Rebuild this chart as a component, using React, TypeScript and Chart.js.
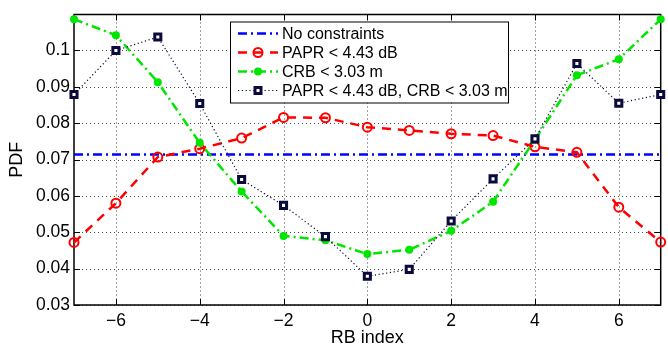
import React, { useEffect, useRef } from "react";
import { Chart, registerables } from "chart.js";

Chart.register(...registerables);

const rbIndex = [-7, -6, -5, -4, -3, -2, -1, 0, 1, 2, 3, 4, 5, 6, 7];
const noConstraints = [0.0714, 0.0714, 0.0714, 0.0714, 0.0714, 0.0714, 0.0714, 0.0714, 0.0714, 0.0714, 0.0714, 0.0714, 0.0714, 0.0714, 0.0714];
const paprOnly = [0.0472, 0.058, 0.0707, 0.073, 0.0759, 0.0816, 0.0815, 0.0789, 0.078, 0.0771, 0.0766, 0.0735, 0.072, 0.0569, 0.0473];
const crbOnly = [0.1086, 0.1042, 0.0913, 0.0746, 0.0612, 0.049, 0.0478, 0.044, 0.0452, 0.0504, 0.0584, 0.0755, 0.0932, 0.0976, 0.1086];
const paprCrb = [0.0879, 0.1, 0.1037, 0.0854, 0.0645, 0.0574, 0.0488, 0.0379, 0.0398, 0.0531, 0.0647, 0.0757, 0.0964, 0.0855, 0.0879];
const xTicks = [-6, -4, -2, 0, 2, 4, 6];
const yTicks = [0.03, 0.04, 0.05, 0.06, 0.07, 0.08, 0.09, 0.1];
const seriesLabels = [
  "No constraints",
  "PAPR < 4.43 dB",
  "CRB < 3.03 m",
  "PAPR < 4.43 dB, CRB < 3.03 m",
];
const xTitle = "RB index";
const yTitle = "PDF";

const FONT = "'Liberation Sans', Arial, Helvetica, sans-serif";
const BLUE = "#0000ff";
const RED = "#ff0000";
const GREEN = "#00e600";
const NAVY = "#0a0a3c";

const styles = [
  { color: BLUE, dash: [9, 4, 2, 4], width: 2.5, marker: "none" },
  { color: RED, dash: [9, 7], width: 2.5, marker: "openCircle" },
  { color: GREEN, dash: [9, 4, 2, 4], width: 2.5, marker: "dot" },
  { color: NAVY, dash: [1.2, 2.6], width: 1.2, marker: "square" },
];

function drawMarker(ctx: CanvasRenderingContext2D, kind: string, x: number, y: number) {
  ctx.save();
  ctx.setLineDash([]);
  if (kind === "openCircle") {
    ctx.strokeStyle = RED;
    ctx.lineWidth = 2;
    ctx.beginPath();
    ctx.arc(x, y, 4.5, 0, Math.PI * 2);
    ctx.stroke();
  } else if (kind === "dot") {
    ctx.fillStyle = GREEN;
    ctx.beginPath();
    ctx.arc(x, y, 4, 0, Math.PI * 2);
    ctx.fill();
  } else if (kind === "square") {
    ctx.fillStyle = "#ffffff";
    ctx.strokeStyle = NAVY;
    ctx.lineWidth = 3;
    ctx.fillRect(x - 3, y - 3, 6, 6);
    ctx.strokeRect(x - 3, y - 3, 6, 6);
  }
  ctx.restore();
}

const framePlugin = {
  id: "matlabFrame",
  beforeDatasetsDraw(chart: any) {
    const { ctx, chartArea: a, scales } = chart;
    const xs = scales.x;
    const ys = scales.y;
    ctx.save();
    ctx.strokeStyle = "#444444";
    ctx.lineWidth = 1;
    ctx.setLineDash([1, 3]);
    xTicks.forEach((v) => {
      const px = Math.round(xs.getPixelForValue(v)) + 0.5;
      ctx.beginPath();
      ctx.moveTo(px, a.top);
      ctx.lineTo(px, a.bottom);
      ctx.stroke();
    });
    yTicks.forEach((v) => {
      const py = Math.round(ys.getPixelForValue(v)) + 0.5;
      ctx.beginPath();
      ctx.moveTo(a.left, py);
      ctx.lineTo(a.right, py);
      ctx.stroke();
    });
    ctx.setLineDash([]);
    ctx.strokeStyle = "#000000";
    ctx.lineWidth = 1.5;
    ctx.strokeRect(a.left, a.top, a.right - a.left, a.bottom - a.top);
    ctx.lineWidth = 1;
    const tl = 6;
    xTicks.forEach((v) => {
      const px = Math.round(xs.getPixelForValue(v)) + 0.5;
      ctx.beginPath();
      ctx.moveTo(px, a.bottom);
      ctx.lineTo(px, a.bottom - tl);
      ctx.moveTo(px, a.top);
      ctx.lineTo(px, a.top + tl);
      ctx.stroke();
    });
    yTicks.forEach((v) => {
      const py = Math.round(ys.getPixelForValue(v)) + 0.5;
      ctx.beginPath();
      ctx.moveTo(a.left, py);
      ctx.lineTo(a.left + tl, py);
      ctx.moveTo(a.right, py);
      ctx.lineTo(a.right - tl, py);
      ctx.stroke();
    });
    ctx.restore();
  },
  afterDatasetsDraw(chart: any) {
    const { ctx, chartArea: a } = chart;
    ctx.save();
    ctx.fillStyle = "#000000";
    ctx.font = `18px ${FONT}`;
    ctx.textAlign = "center";
    ctx.textBaseline = "middle";
    ctx.fillText(xTitle, (a.left + a.right) / 2, 338);
    ctx.save();
    ctx.translate(17, (a.top + a.bottom) / 2);
    ctx.rotate(-Math.PI / 2);
    ctx.fillText(yTitle, 0, 0);
    ctx.restore();
    const bx = a.left + 156;
    const by = a.top + 7;
    const bw = 278;
    const bh = 81;
    ctx.fillStyle = "#ffffff";
    ctx.fillRect(bx, by, bw, bh);
    ctx.strokeStyle = "#000000";
    ctx.lineWidth = 1;
    ctx.strokeRect(bx + 0.5, by + 0.5, bw, bh);
    const rows = [12, 31, 50, 69];
    seriesLabels.forEach((label, i) => {
      const st = styles[i];
      const y = by + rows[i];
      ctx.save();
      ctx.strokeStyle = st.color;
      ctx.lineWidth = st.width;
      ctx.setLineDash(st.dash);
      ctx.beginPath();
      ctx.moveTo(bx + 8, y);
      ctx.lineTo(bx + 48, y);
      ctx.stroke();
      ctx.restore();
      drawMarker(ctx, st.marker, bx + 28, y);
      ctx.fillStyle = "#000000";
      ctx.font = `16px ${FONT}`;
      ctx.textAlign = "left";
      ctx.textBaseline = "middle";
      ctx.fillText(label, bx + 52, y + 1);
    });
    ctx.restore();
  },
};

function toPoints(values: number[]) {
  return rbIndex.map((x, i) => ({ x, y: values[i] }));
}

export default function App() {
  const canvasRef = useRef<HTMLCanvasElement | null>(null);

  useEffect(() => {
    document.body.style.margin = "0";
    const canvas = canvasRef.current;
    if (!canvas) return;
    const seriesValues = [noConstraints, paprOnly, crbOnly, paprCrb];
    const datasets = seriesValues.map((vals, i) => {
      const st = styles[i];
      const base: any = {
        label: seriesLabels[i],
        data: toPoints(vals),
        borderColor: st.color,
        borderWidth: st.width,
        borderDash: st.dash,
        fill: false,
        tension: 0,
        clip: false,
        order: 3 - i,
        pointRadius: 0,
        pointHoverRadius: 0,
      };
      if (st.marker === "openCircle") {
        Object.assign(base, {
          pointStyle: "circle",
          pointRadius: 4.5,
          pointBorderWidth: 2,
          pointBorderColor: RED,
          pointBackgroundColor: "rgba(0,0,0,0)",
        });
      } else if (st.marker === "dot") {
        Object.assign(base, {
          pointStyle: "circle",
          pointRadius: 4,
          pointBorderWidth: 0,
          pointBackgroundColor: GREEN,
        });
      } else if (st.marker === "square") {
        Object.assign(base, {
          pointStyle: "rect",
          pointRadius: 4.3,
          pointBorderWidth: 3,
          pointBorderColor: NAVY,
          pointBackgroundColor: "#ffffff",
        });
      }
      return base;
    });

    const chart = new Chart(canvas, {
      type: "line",
      data: { datasets },
      plugins: [framePlugin],
      options: {
        animation: false,
        responsive: false,
        devicePixelRatio: 1,
        layout: { padding: { left: 0, right: 4, top: 10, bottom: 0 } },
        plugins: {
          legend: { display: false },
          tooltip: { enabled: false },
          title: { display: false },
        },
        elements: { line: { borderCapStyle: "butt" } },
        scales: {
          x: {
            type: "linear",
            min: -7,
            max: 7,
            grid: { display: false, drawTicks: false },
            border: { display: false },
            afterBuildTicks: (s: any) => {
              s.ticks = xTicks.map((v) => ({ value: v }));
            },
            afterFit: (s: any) => {
              s.height = 45;
            },
            ticks: {
              padding: 6,
              color: "#000000",
              font: { family: FONT, size: 17.5 },
              maxRotation: 0,
              autoSkip: false,
              callback: (v: any) => String(v).replace("-", "\u2212"),
            },
          },
          y: {
            type: "linear",
            min: 0.03,
            max: 0.1099,
            grid: { display: false, drawTicks: false },
            border: { display: false },
            afterBuildTicks: (s: any) => {
              s.ticks = yTicks.map((v) => ({ value: v }));
            },
            afterFit: (s: any) => {
              s.width = 74;
            },
            ticks: {
              padding: 4,
              color: "#000000",
              font: { family: FONT, size: 17.5 },
              autoSkip: false,
              callback: (v: any) => String(Math.round(v * 100) / 100),
            },
          },
        },
      } as any,
    });
    return () => chart.destroy();
  }, []);

  return (
    <div style={{ width: 668, height: 350 }}>
      <canvas ref={canvasRef} width={668} height={350} style={{ display: "block" }} />
    </div>
  );
}
